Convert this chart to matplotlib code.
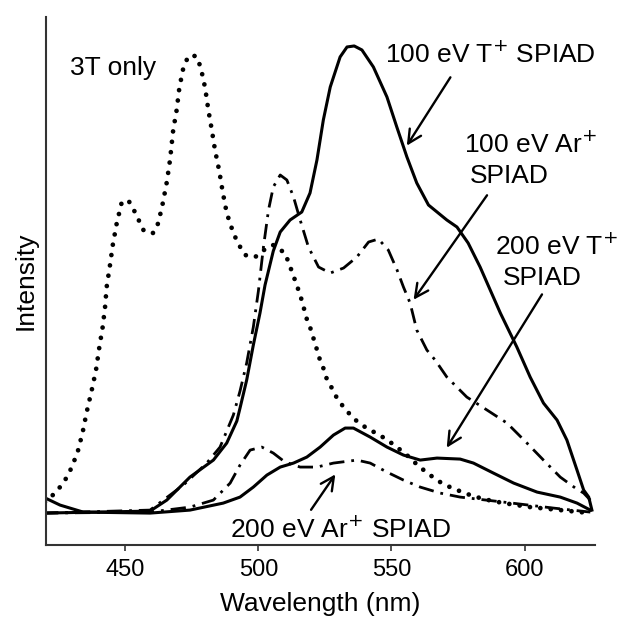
import matplotlib
matplotlib.use("Agg")
import matplotlib.pyplot as plt

plt.rcParams['font.family'] = ['Liberation Sans', 'DejaVu Sans']

# 3T only (dotted)
wl_3t = [419.8, 423.6, 426.7, 428.9, 432.0, 434.0, 435.5, 437.4, 439.0, 440.2,
         441.5, 442.4, 443.0, 444.2, 445.3, 446.8, 448.6, 451.1, 453.4, 457.0,
         460.5, 462.4, 464.1, 465.6, 466.8, 468.0, 469.3, 470.3, 471.8, 473.7,
         476.6, 478.3, 480.0, 481.2, 482.5, 483.7, 485.3, 486.6, 488.1, 490.6,
         492.5, 495.0, 498.8, 502.1, 505.5, 510.0, 511.7, 513.2, 514.4, 515.7,
         516.9, 517.9, 519.4, 521.7, 522.9, 524.4, 525.7, 527.6, 529.7, 532.6,
         536.0, 540.1, 544.1, 548.0, 552.0, 555.8, 560.2, 564.5, 568.3, 572.7,
         579.6, 584.6, 592.1, 602.1, 613.4, 624.7]
int_3t = [0.11, 0.20, 0.30, 0.40, 0.60, 0.81, 1.01, 1.23, 1.43, 1.65,
          1.86, 2.06, 2.26, 2.47, 2.68, 2.90, 3.10, 3.13, 3.02, 2.82,
          2.80, 2.90, 3.10, 3.31, 3.53, 3.83, 4.03, 4.25, 4.45, 4.57,
          4.57, 4.46, 4.25, 4.03, 3.83, 3.63, 3.42, 3.21, 3.00, 2.80,
          2.69, 2.58, 2.56, 2.63, 2.68, 2.60, 2.48, 2.37, 2.28, 2.18,
          2.07, 1.96, 1.86, 1.66, 1.55, 1.45, 1.34, 1.25, 1.14, 1.04,
          0.94, 0.86, 0.80, 0.74, 0.66, 0.58, 0.47, 0.38, 0.31, 0.25,
          0.18, 0.14, 0.10, 0.06, 0.03, 0.00]

# 100 eV T+ SPIAD (solid)
wl_t100 = [419.1, 459.3, 465.6, 474.3, 483.1, 488.1, 491.9, 493.1, 495.6, 498.1,
           500.6, 502.5, 505.6, 508.2, 511.9, 516.3, 519.4, 522.0, 524.4, 527.0,
           530.7, 533.3, 536.0, 538.9, 543.2, 548.3, 552.0, 555.8, 559.5, 563.9,
           570.8, 574.6, 578.8, 583.3, 587.1, 590.9, 597.1, 602.1, 607.1, 612.2,
           615.9, 619.7, 622.2, 624.1, 625.3]
int_t100 = [0.0, 0.02, 0.13, 0.36, 0.53, 0.70, 0.92, 1.05, 1.33, 1.68,
            2.00, 2.28, 2.62, 2.81, 2.93, 3.01, 3.20, 3.53, 3.93, 4.26,
            4.56, 4.66, 4.67, 4.63, 4.46, 4.16, 3.86, 3.56, 3.30, 3.08,
            2.93, 2.86, 2.70, 2.46, 2.23, 2.00, 1.66, 1.36, 1.10, 0.93,
            0.73, 0.43, 0.23, 0.16, 0.03]

# 100 eV Ar+ SPIAD (dash-dot)
wl_ar100 = [419.1, 459.3, 471.8, 480.6, 485.6, 490.6, 493.1, 495.6, 498.1, 500.0,
            501.9, 503.8, 505.6, 508.2, 510.7, 513.2, 515.7, 518.8, 522.6, 527.0,
            532.0, 537.0, 541.4, 545.1, 548.8, 552.1, 554.5, 557.0, 559.5, 563.3,
            566.4, 570.8, 578.3, 585.9, 593.4, 600.9, 607.1, 613.4, 619.1, 622.2,
            624.7]
int_ar100 = [0.0, 0.03, 0.28, 0.50, 0.66, 0.98, 1.22, 1.50, 1.86, 2.22,
             2.66, 3.03, 3.26, 3.38, 3.33, 3.16, 2.93, 2.66, 2.46, 2.40,
             2.45, 2.56, 2.71, 2.74, 2.63, 2.43, 2.26, 2.10, 1.83, 1.63,
             1.53, 1.36, 1.16, 1.03, 0.90, 0.70, 0.53, 0.36, 0.25, 0.20,
             0.13]

# 200 eV T+ SPIAD (solid)
wl_t200 = [419.2, 425.5, 434.2, 459.3, 474.3, 486.8, 493.1, 498.1, 503.2, 508.2,
           513.2, 518.2, 523.2, 528.2, 532.6, 535.7, 542.0, 548.3, 554.5, 560.8,
           567.1, 575.8, 580.8, 588.3, 595.9, 604.7, 613.4, 619.7, 624.7]
int_t200 = [0.16, 0.08, 0.01, 0.0, 0.03, 0.10, 0.16, 0.26, 0.38, 0.46,
            0.50, 0.56, 0.66, 0.78, 0.85, 0.85, 0.76, 0.66, 0.58, 0.53,
            0.55, 0.54, 0.50, 0.40, 0.30, 0.21, 0.16, 0.10, 0.03]

# 200 eV Ar+ SPIAD (dash-dot)
wl_ar200 = [419.1, 459.3, 474.3, 483.1, 489.4, 493.1, 496.9, 501.3, 505.6, 510.0,
            515.7, 522.0, 528.2, 537.0, 542.0, 548.3, 554.5, 560.8, 568.3, 575.8,
            592.1, 610.9, 624.7]
int_ar200 = [0.0, 0.01, 0.06, 0.13, 0.30, 0.48, 0.63, 0.66, 0.60, 0.51,
             0.46, 0.46, 0.50, 0.53, 0.50, 0.41, 0.33, 0.26, 0.20, 0.16,
             0.11, 0.05, 0.01]

x_ticks = [450, 500, 550, 600]

fig = plt.figure(figsize=(6.28, 6.28), dpi=100)
ax = fig.add_axes([0.0732, 0.132, 0.874, 0.841])

dashdot = (0, (5.5, 2.5, 1, 2.5))
ax.plot(wl_3t, int_3t, color='black', lw=3.4, linestyle=(0, (0.01, 2.2)),
        dash_capstyle='round', solid_joinstyle='round')
ax.plot(wl_ar100, int_ar100, color='black', lw=2.0, linestyle=dashdot)
ax.plot(wl_ar200, int_ar200, color='black', lw=2.0, linestyle=dashdot)
ax.plot(wl_t100, int_t100, color='black', lw=2.2, solid_joinstyle='round')
ax.plot(wl_t200, int_t200, color='black', lw=2.2, solid_joinstyle='round')

ax.set_xlim(420.2, 626.4)
ax.set_ylim(-0.32, 4.96)
ax.set_xticks(x_ticks)
ax.set_yticks([])
ax.tick_params(axis='x', direction='out', length=4, width=1.2, labelsize=17,
               color='#333333', pad=6)
for side in ['top', 'right']:
    ax.spines[side].set_visible(False)
for side in ['left', 'bottom']:
    ax.spines[side].set_linewidth(1.5)
    ax.spines[side].set_color('#333333')

ax.set_xlabel('Wavelength (nm)', fontsize=19, labelpad=8)
ax.set_ylabel('Intensity', fontsize=19, labelpad=6)

fs = 19
ax.text(429.2, 4.38, '3T only', fontsize=fs, va='baseline')
ax.text(547.6, 4.50, r'100 eV T$^{+}$ SPIAD', fontsize=fs, va='baseline')
ax.text(577.1, 3.60, r'100 eV Ar$^{+}$', fontsize=fs, va='baseline')
ax.text(579.6, 3.30, 'SPIAD', fontsize=fs, va='baseline')
ax.text(589.0, 2.58, r'200 eV T$^{+}$', fontsize=fs, va='baseline')
ax.text(592.0, 2.28, 'SPIAD', fontsize=fs, va='baseline')
ax.text(489.4, -0.25, r'200 eV Ar$^{+}$ SPIAD', fontsize=fs, va='baseline')

arrow = dict(arrowstyle='->', color='black', lw=1.7, mutation_scale=24)
ax.annotate('', xy=(555.2, 3.65), xytext=(572.7, 4.38), arrowprops=arrow)
ax.annotate('', xy=(557.7, 2.11), xytext=(586.5, 3.20), arrowprops=arrow)
ax.annotate('', xy=(570.2, 0.63), xytext=(607.1, 2.21), arrowprops=arrow)
ax.annotate('', xy=(529.5, 0.41), xytext=(519.2, 0.01), arrowprops=arrow)

fig.savefig('out.png', dpi=100)
